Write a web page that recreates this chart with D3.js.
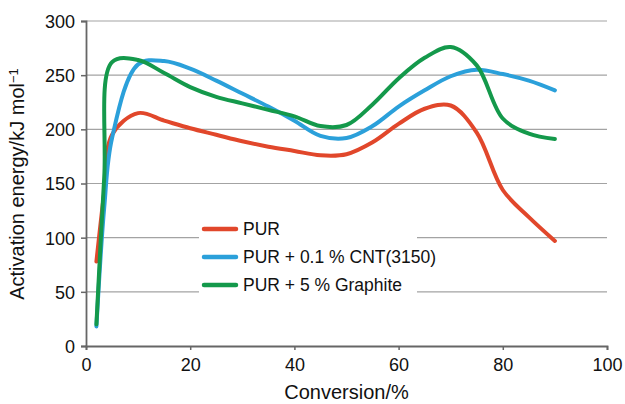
<!DOCTYPE html>
<html lang="en">
<head>
<meta charset="utf-8">
<script src="https://cdn.jsdelivr.net/npm/d3@7"></script>
<style>
    body { margin: 0; background: #fff; }
    svg { font-family: "Liberation Sans", Arial, sans-serif; }
</style>
</head>
<body>
<svg width="625" height="404"></svg>
<script>
    // conversion steps (%) and activation energy per sample (kJ/mol)
    var conversion = [2, 3.5, 5, 10, 15, 20, 25, 30, 35, 40, 45, 50, 55, 60, 65, 70, 75, 80, 85, 90];
    var pur      = [78, 142, 195, 215, 208, 201, 195, 189, 184, 180, 176, 177, 188, 205, 219, 222, 197, 144, 119, 97];
    var purCnt   = [18, 128, 192, 260, 263, 256, 245, 233, 221, 208, 194, 192, 203, 221, 236, 249, 255, 251, 245, 236];
    var purGraph = [20, 156, 262, 264, 252, 239, 230, 224, 218, 212, 203, 204, 223, 247, 266, 276, 259, 210, 196, 191];

    var seriesNames = ["PUR", "PUR + 0.1 % CNT(3150)", "PUR + 5 % Graphite"];
    var colors = ["#e1472b", "#2ba0da", "#14994b"];
    var xTicks = [0, 20, 40, 60, 80, 100];
    var yTicks = [0, 50, 100, 150, 200, 250, 300];

    var svg = d3.select("svg");
    var plotLeft = 86, plotRight = 607, plotTop = 21, plotBottom = 346;

    var x = d3.scaleLinear().domain([0, 100]).range([plotLeft, plotRight]);
    var y = d3.scaleLinear().domain([0, 300]).range([plotBottom, plotTop]);

    // horizontal grid
    svg.append("g")
        .selectAll("line")
        .data(yTicks.slice(1))
        .enter().append("line")
        .attr("x1", plotLeft).attr("x2", plotRight)
        .attr("y1", d => y(d)).attr("y2", d => y(d))
        .style("stroke", "#a3a3a3")
        .style("stroke-width", 1.2);

    // axes
    var yAxis = svg.append("g")
        .attr("transform", "translate(" + plotLeft + ",0)")
        .call(d3.axisLeft(y).tickValues(yTicks).tickSize(5).tickPadding(6));
    var xAxis = svg.append("g")
        .attr("transform", "translate(0," + plotBottom + ")")
        .call(d3.axisBottom(x).tickValues(xTicks).tickSize(4).tickPadding(5));

    [xAxis, yAxis].forEach(function (g) {
        g.select(".domain").style("stroke", "#666").style("stroke-width", 1.8);
        g.selectAll(".tick line").style("stroke", "#666").style("stroke-width", 1.5);
        g.selectAll(".tick text")
            .style("font-family", "Liberation Sans, Arial, sans-serif")
            .style("font-size", "18px")
            .style("fill", "#111");
    });
    xAxis.selectAll(".tick text").attr("dy", "0.9em");
    yAxis.selectAll(".tick text").attr("dy", "0.36em");

    // legend box (hides the grid behind it)
    svg.append("rect")
        .attr("x", 199).attr("y", 214)
        .attr("width", 218).attr("height", 86)
        .style("fill", "#fff");

    var line = d3.line()
        .x((d, i) => x(conversion[i]))
        .y(d => y(d))
        .curve(d3.curveCatmullRom.alpha(0.5));

    svg.append("g")
        .selectAll("path")
        .data([pur, purCnt, purGraph])
        .enter().append("path")
        .attr("d", line)
        .style("fill", "none")
        .style("stroke", (d, i) => colors[i])
        .style("stroke-width", 4)
        .style("stroke-linecap", "round")
        .style("stroke-linejoin", "round");

    var legend = svg.append("g")
        .selectAll("g")
        .data(seriesNames)
        .enter().append("g")
        .attr("transform", (d, i) => "translate(203," + (229 + i * 28) + ")");
    legend.append("line")
        .attr("x1", 1).attr("x2", 33)
        .style("stroke", (d, i) => colors[i])
        .style("stroke-width", 4.5)
        .style("stroke-linecap", "round");
    legend.append("text")
        .attr("x", 40)
        .attr("dy", "0.36em")
        .style("font-size", "17.5px")
        .style("fill", "#111")
        .text(d => d);

    // axis titles
    svg.append("text")
        .attr("x", (plotLeft + plotRight) / 2)
        .attr("y", 399)
        .attr("text-anchor", "middle")
        .style("font-size", "20px")
        .style("fill", "#111")
        .text("Conversion/%");

    var yTitle = svg.append("text")
        .attr("transform", "translate(24,184) rotate(-90)")
        .attr("text-anchor", "middle")
        .style("font-size", "20px")
        .style("fill", "#111");
    yTitle.append("tspan").text("Activation energy/kJ mol");
    yTitle.append("tspan").attr("dy", "-0.45em").style("font-size", "13px").text("\u22121");
</script>
</body>
</html>
